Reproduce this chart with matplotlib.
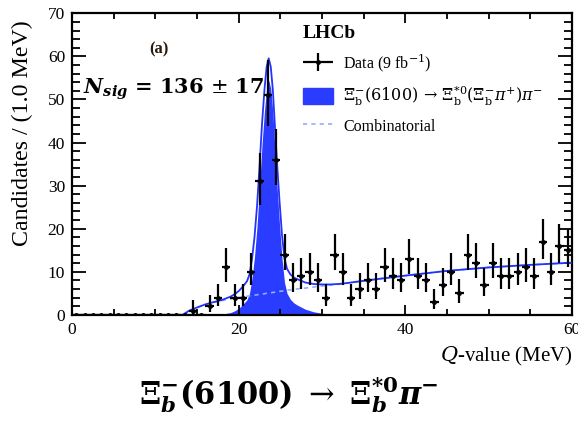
import numpy as np
import matplotlib
matplotlib.use("Agg")
import matplotlib.pyplot as plt
from matplotlib.patches import Patch
from matplotlib.lines import Line2D
from matplotlib.ticker import MultipleLocator
from matplotlib.legend_handler import HandlerErrorbar

plt.rcParams['font.family'] = ['Liberation Serif', 'DejaVu Serif']
plt.rcParams['mathtext.fontset'] = 'dejavuserif'

# Q-value histogram, 1 MeV bins from 0 to 60 MeV
bin_centers = np.arange(0.5, 60.0, 1.0)
counts = [0] * 14 + [
    1, 0, 2, 4, 11, 4, 4, 10, 31, 51,
    36, 14, 8, 9, 10, 8, 4, 14, 10, 4,
    6, 8, 6, 11, 9, 8, 13, 9, 8, 3,
    7, 10, 5, 14, 12, 7, 12, 9, 9, 10,
    11, 9, 17, 10, 16, 15,
]

# Fit components sampled along Q (MeV)
curve_q = [13.3, 14, 15, 16, 17, 18, 19, 19.5, 20, 20.5, 21, 21.3, 21.6, 21.9,
           22.2, 22.5, 22.8, 23.1, 23.35, 23.6, 23.85, 24.1, 24.35, 24.6, 24.9,
           25.2, 25.5, 25.8, 26.2, 26.6, 27, 27.5, 28, 29, 30, 31, 32, 33, 35,
           40, 45, 50, 55, 60]
signal = [0, 0, 0, 0.02, 0.06, 0.15, 0.5, 0.9, 1.5, 2.4, 3.5, 5.0, 8.5, 13.5,
          20.5, 29.5, 39.5, 47.5, 52.5, 54.5, 52.5, 47, 38.5, 30, 21,
          13, 7.5, 5.0, 3.6, 2.8, 2.3, 1.8, 1.3, 0.7, 0.35, 0.15, 0.06, 0.02, 0,
          0, 0, 0, 0, 0]
combinatorial = [0, 0.9, 1.7, 2.4, 2.9, 3.3, 3.7, 3.85, 4.0, 4.15, 4.3, 4.4, 4.45, 4.55,
                 4.65, 4.75, 4.8, 4.9, 5.0, 5.05, 5.1, 5.2, 5.25, 5.35, 5.45,
                 5.5, 5.6, 5.7, 5.8, 5.9, 6.0, 6.1, 6.2, 6.45, 6.7, 6.9, 7.1, 7.35, 7.9,
                 9.1, 10.2, 11.0, 11.6, 12.1]

n = np.array(counts, dtype=float)
# asymmetric Poisson errors (Gehrels approximation); empty bins get none
err_up = np.where(n > 0, np.sqrt(n + 0.75) + 1.0, 0.0)
err_lo = np.where(n > 0, np.sqrt(np.clip(n - 0.25, 0, None)), 0.0)

q = np.array(curve_q)
sig = np.array(signal)
bkg = np.array(combinatorial)
total = sig + bkg

fill_col = '#2a3cff'
line_col = '#2233ff'
comb_col = '#8fb0ff'

fig = plt.figure(figsize=(5.78, 4.22), dpi=100)
ax = fig.add_axes([0.1246, 0.254, 0.865, 0.7145])

ax.fill_between(q, 0, sig, color=fill_col, lw=0, zorder=1)
ax.plot(q, bkg, color=comb_col, lw=1.2, ls=(0, (2.5, 2.5)), zorder=2)
ax.plot(q, total, color=line_col, lw=1.3, zorder=3)
eb = ax.errorbar(bin_centers, n, yerr=[err_lo, err_up], xerr=0.5, fmt='o',
                 ms=2.5, color='black', ecolor='black', elinewidth=1.6,
                 capsize=0, zorder=4)

ax.set_xlim(0, 60)
ax.set_ylim(0, 70)
ax.xaxis.set_major_locator(MultipleLocator(20))
ax.xaxis.set_minor_locator(MultipleLocator(5))
ax.yaxis.set_major_locator(MultipleLocator(10))
ax.yaxis.set_minor_locator(MultipleLocator(2))
ax.tick_params(which='both', direction='in', top=True, right=True, width=1.3,
               labelsize=12.5, pad=5)
ax.tick_params(axis='y', which='major', length=10)
ax.tick_params(axis='y', which='minor', length=5.5)
ax.tick_params(axis='x', which='major', length=7)
ax.tick_params(axis='x', which='minor', length=4)
for s in ax.spines.values():
    s.set_linewidth(1.6)

ax.text(-0.1, 0.978, 'Candidates / (1.0 MeV)', transform=ax.transAxes,
        rotation=90, ha='center', va='top', fontsize=17.2)
ax.text(1.0, -0.1, r'$Q$-value (MeV)', transform=ax.transAxes, ha='right',
        va='top', fontsize=15)

ax.text(0.155, 0.88, '(a)', transform=ax.transAxes, fontsize=12,
        fontweight='bold', color='#2a1a10', ha='left', va='center')
ax.text(0.022, 0.748, r'$\mathbfit{N}_{\mathbfit{sig}}\mathbf{\,=\,136\,}\pm\mathbf{\,17}$',
        transform=ax.transAxes, fontsize=15, ha='left', va='center')

handles = [
    eb,
    Patch(facecolor=fill_col, edgecolor=fill_col),
    Line2D([], [], color=comb_col, lw=1.2, ls=(0, (2.5, 2.5))),
]
labels = [
    r'Data (9 fb$^{-1}$)',
    r'$\mathit{\Xi}_{\rm b}^{-}(6100)\,\rightarrow\,\mathit{\Xi}_{\rm b}^{*0}(\mathit{\Xi}_{\rm b}^{-}\pi^{+})\pi^{-}$',
    'Combinatorial',
]
leg = ax.legend(handles, labels, loc='upper left', bbox_to_anchor=(0.462, 0.961),
                frameon=False, fontsize=11.5, title='LHCb', handlelength=1.88,
                handleheight=1.15, labelspacing=0.6, handletextpad=0.63,
                borderpad=0, borderaxespad=0, alignment='left',
                handler_map={type(eb): HandlerErrorbar(xerr_size=0.95, yerr_size=0.55)})
leg.get_title().set_fontweight('bold')
leg.get_title().set_fontsize(14)

fig.text(0.5, 0.065,
         r'$\mathbf{\Xi}_{\mathbfit{b}}^{\mathbf{-}}\mathbf{(6100)}\ \rightarrow\ '
         r'\mathbf{\Xi}_{\mathbfit{b}}^{\mathbf{*0}}\mathbfit{\pi}^{\mathbf{-}}$',
         ha='center', va='center', fontsize=22)

fig.savefig('out.png', dpi=100)
